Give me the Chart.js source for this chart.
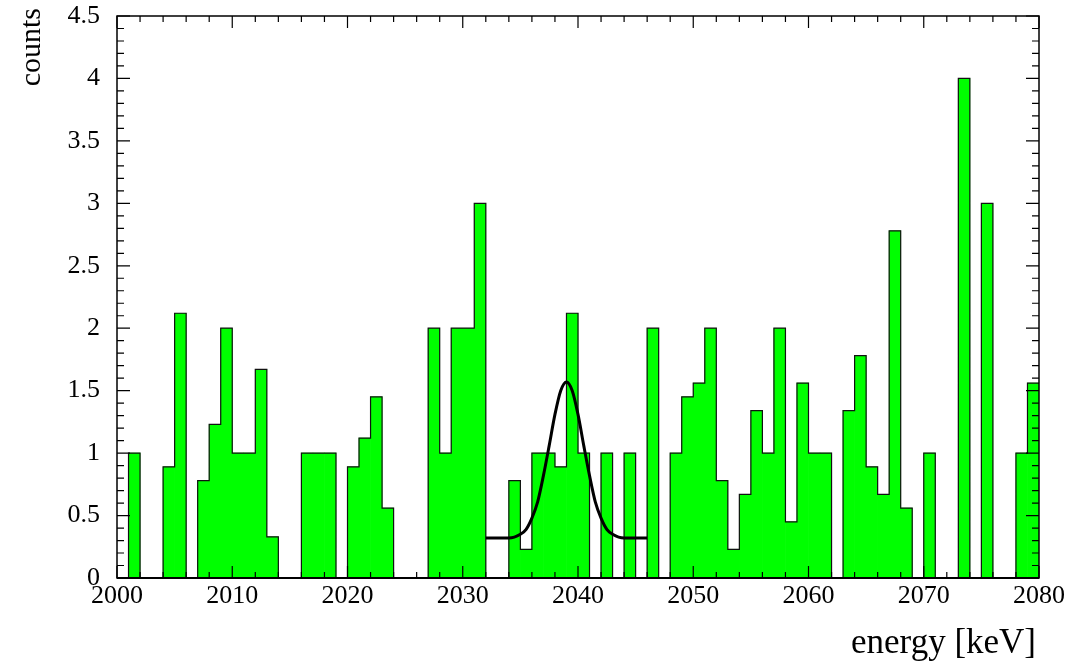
<!DOCTYPE html>
<html>
<head>
<meta charset="utf-8">
<script src="https://cdn.jsdelivr.net/npm/chart.js@4"></script>
<style>
  body { margin: 0; background: #fff; }
  canvas { display: block; }
</style>
</head>
<body>
<canvas id="chart" width="1073" height="666"></canvas>
<script>
// histogram: 1 keV bins starting at 2000 keV
let binStart = 2000;
let binEnd = 2080;
let counts = [
  0, 1, 0, 0, 0.89, 2.12, 0, 0.78, 1.23, 2,
  1, 1, 1.67, 0.33, 0, 0, 1, 1, 1, 0,
  0.89, 1.12, 1.45, 0.56, 0, 0, 0, 2, 1, 2,
  2, 3, 0, 0, 0.78, 0.23, 1, 1, 0.89, 2.12,
  1, 0, 1, 0, 1, 0, 2, 0, 1, 1.45,
  1.56, 2, 0.78, 0.23, 0.67, 1.34, 1, 2, 0.45, 1.56,
  1, 1, 0, 1.34, 1.78, 0.89, 0.67, 2.78, 0.56, 0,
  1, 0, 0, 4, 0, 3, 0, 0, 1, 1.56,
];

// fitted peak
let fitEnergy = [2032, 2033, 2034, 2035, 2035.5, 2036, 2036.5, 2037, 2037.5, 2038, 2038.5, 2039,
  2039.5, 2040, 2040.5, 2041, 2041.5, 2042, 2042.5, 2043, 2044, 2045, 2046];
let fitCounts = [0.32, 0.32, 0.32, 0.35, 0.39, 0.48, 0.61, 0.82, 1.06, 1.31, 1.5, 1.57,
  1.5, 1.31, 1.06, 0.82, 0.61, 0.48, 0.39, 0.35, 0.32, 0.32, 0.32];

let yTicks = [0, 0.5, 1, 1.5, 2, 2.5, 3, 3.5, 4, 4.5];
let xTicks = [2000, 2010, 2020, 2030, 2040, 2050, 2060, 2070, 2080];

let barData = counts.map((c, i) => ({ x: binStart + i + 0.5, y: c }));
// outline: one point per bin upper edge
let outlineData = [{ x: binStart, y: 0 }];
counts.forEach((c, i) => outlineData.push({ x: binStart + i + 1, y: c }));
let fitData = fitEnergy.map((e, i) => ({ x: e, y: fitCounts[i] }));

let serif = "'Liberation Serif', 'Times New Roman', serif";

// ROOT style frame with inward ticks on all four sides
let framePlugin = {
  id: "frame",
  afterDraw(chart) {
    let ctx = chart.ctx;
    let a = chart.chartArea;
    let xs = chart.scales.x;
    let ys = chart.scales.y;
    ctx.save();
    ctx.strokeStyle = "#000";
    ctx.lineWidth = 1.5;
    ctx.strokeRect(a.left, a.top, a.right - a.left, a.bottom - a.top);
    ctx.lineWidth = 1.2;
    ctx.beginPath();
    for (let v = 0; v <= 45; v++) {
      let y = ys.getPixelForValue(v / 10);
      let len = v % 5 === 0 ? 13 : 7;
      ctx.moveTo(a.left, y);
      ctx.lineTo(a.left + len, y);
      ctx.moveTo(a.right, y);
      ctx.lineTo(a.right - len, y);
    }
    for (let e = binStart; e <= binEnd; e += 2) {
      let x = xs.getPixelForValue(e);
      let len = e % 10 === 0 ? 12 : 6;
      ctx.moveTo(x, a.bottom);
      ctx.lineTo(x, a.bottom - len);
      ctx.moveTo(x, a.top);
      ctx.lineTo(x, a.top + len);
    }
    ctx.stroke();
    ctx.lineWidth = 2;
    ctx.beginPath();
    ctx.moveTo(a.left, a.bottom);
    ctx.lineTo(a.right, a.bottom);
    ctx.stroke();

    ctx.fillStyle = "#000";
    ctx.font = "35px " + serif;
    ctx.textAlign = "right";
    ctx.textBaseline = "alphabetic";
    ctx.fillText("energy [keV]", 1036, 653);
    ctx.translate(40, 8);
    ctx.rotate(-Math.PI / 2);
    ctx.font = "30px " + serif;
    ctx.fillText("counts", 0, 0);
    ctx.restore();
  },
};

let config = {
  type: "bar",
  data: {
    datasets: [
      {
        type: "line",
        data: fitData,
        borderColor: "#000",
        borderWidth: 3,
        pointRadius: 0,
        cubicInterpolationMode: "monotone",
        order: 1,
      },
      {
        type: "line",
        data: outlineData,
        stepped: "after",
        borderColor: "#111",
        borderWidth: 1.2,
        pointRadius: 0,
        order: 2,
      },
      {
        data: barData,
        backgroundColor: "#00ff00",
        borderWidth: 0,
        barPercentage: 1.0,
        categoryPercentage: 1.0,
        order: 3,
      },
    ],
  },
  options: {
    responsive: false,
    animation: false,
    events: [],
    layout: { padding: { left: 0, top: 16, right: 34, bottom: 0 } },
    plugins: {
      legend: { display: false },
      tooltip: { enabled: false },
    },
    scales: {
      x: {
        type: "linear",
        min: binStart,
        max: binEnd,
        offset: false,
        grid: { display: false, drawTicks: false },
        border: { display: false },
        afterBuildTicks: (scale) => {
          scale.ticks = xTicks.map((v) => ({ value: v }));
        },
        afterFit: (scale) => {
          scale.height = 88;
        },
        ticks: {
          autoSkip: false,
          maxRotation: 0,
          padding: 3,
          color: "#000",
          font: { family: serif, size: 26 },
          callback: (v) => String(v),
        },
      },
      y: {
        min: 0,
        max: 4.5,
        grid: { display: false, drawTicks: false },
        border: { display: false },
        afterBuildTicks: (scale) => {
          scale.ticks = yTicks.map((v) => ({ value: v }));
        },
        afterFit: (scale) => {
          scale.width = 117;
          scale.paddingTop = 0;
          scale.paddingBottom = 0;
        },
        ticks: {
          autoSkip: false,
          padding: 17,
          color: "#000",
          font: { family: serif, size: 26 },
          callback: (v) => String(v),
        },
      },
    },
  },
  plugins: [framePlugin],
};

let mainChart = new Chart(document.getElementById("chart"), config);
</script>
</body>
</html>
